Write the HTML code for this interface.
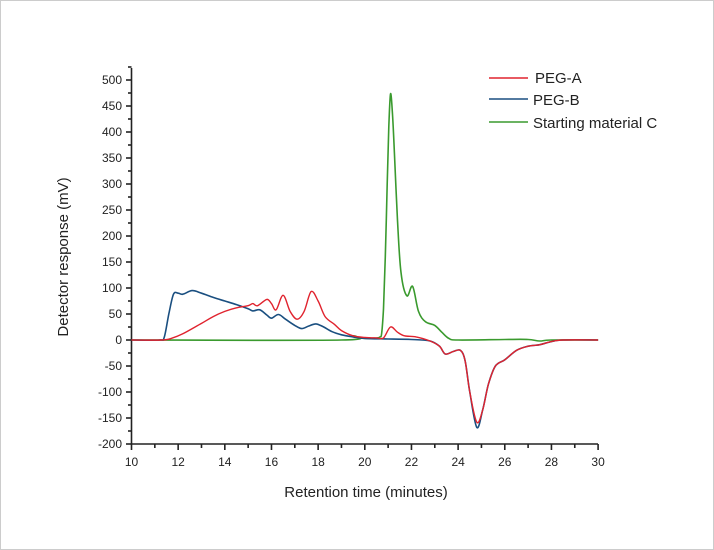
<!DOCTYPE html>
<html><head><meta charset="utf-8"><style>
html,body{margin:0;padding:0;background:#fff;}
svg{display:block;}
text{font-family:"Liberation Sans Narrow","Liberation Sans",sans-serif;fill:#222;}
</style></head><body>
<svg id="s" width="714" height="550" viewBox="0 0 714 550" xmlns="http://www.w3.org/2000/svg">
<rect x="0.5" y="0.5" width="713" height="549" fill="#fff" stroke="#ccc"/>
<g id="ax" stroke="#222" stroke-width="1.6" fill="none"></g>
<g id="lbl" font-size="12" text-anchor="end"></g>
<g id="xl" font-size="12" text-anchor="middle"></g>
<text x="366" y="497" font-size="15" text-anchor="middle">Retention time (minutes)</text>
<text transform="translate(68,257) rotate(-90)" font-size="15" text-anchor="middle">Detector response (mV)</text>
<path id="g" fill="none" stroke="#3a9a2e" stroke-width="1.6"/>
<path id="b" fill="none" stroke="#1a4f80" stroke-width="1.6"/>
<path id="r" fill="none" stroke="#e0232e" stroke-width="1.4"/>
<line x1="489" y1="78" x2="528" y2="78" stroke="#e0232e" stroke-width="1.4"/>
<line x1="489" y1="99" x2="528" y2="99" stroke="#1a4f80" stroke-width="1.6"/>
<line x1="489" y1="122" x2="528" y2="122" stroke="#3a9a2e" stroke-width="1.6"/>
<text x="535" y="83" font-size="15">PEG-A</text>
<text x="533" y="105" font-size="15">PEG-B</text>
<text x="533" y="128" font-size="15">Starting material C</text>
</svg>
<script>
const X=t=>131.5+23.33*(t-10), Y=v=>340-0.52*v;
const ax=document.getElementById('ax'),lbl=document.getElementById('lbl'),xl=document.getElementById('xl');
let h='<line x1="131.5" y1="68" x2="131.5" y2="444"/><line x1="131.5" y1="444" x2="598" y2="444"/>';
for(let v=-200;v<=525;v+=25){const y=Y(v);h+=`<line x1="${v%50?128:126}" y1="${y}" x2="131.5" y2="${y}"/>`;
 if(v%50==0&&v>-200) lbl.innerHTML+=`<text x="122" y="${y+4}">${v}</text>`;}
lbl.innerHTML+=`<text x="122" y="${Y(-200)+4}">-200</text>`;
for(let t=10;t<=30;t++){const x=X(t);h+=`<line x1="${x}" y1="444" x2="${x}" y2="${t%2?448:450}"/>`;
 if(t%2==0) xl.innerHTML+=`<text x="${x}" y="466">${t}</text>`;}
ax.innerHTML=h;
function path(d){const p=d.map(a=>[X(a[0]),Y(a[1])]);let s=`M${p[0][0]},${p[0][1]}`;
 for(let i=0;i<p.length-1;i++){const p0=p[i-1]||p[i],p1=p[i],p2=p[i+1],p3=p[i+2]||p2;
  const c1=[p1[0]+(p2[0]-p0[0])/6,p1[1]+(p2[1]-p0[1])/6],c2=[p2[0]-(p3[0]-p1[0])/6,p2[1]-(p3[1]-p1[1])/6];
  s+=`C${c1[0].toFixed(1)},${c1[1].toFixed(1)} ${c2[0].toFixed(1)},${c2[1].toFixed(1)} ${p2[0].toFixed(1)},${p2[1].toFixed(1)}`;}
 return s;}
const tail=[[22.8,-2],[23.2,-12],[23.45,-27],[23.8,-22],[24.1,-20],[24.3,-40],[24.5,-100],[24.8,-168],[25.05,-135],[25.3,-85],[25.6,-50],[26,-38],[26.5,-20],[27,-12],[27.5,-9],[28,-3],[28.5,0],[30,0]];
const tailR=tail.map(a=>[a[0],a[1]==-168?-158:a[1]]);
const B=[[10,0],[11.2,0],[11.4,5],[11.6,50],[11.8,88],[12.0,90],[12.2,88],[12.6,95],[13,90],[13.5,82],[14,75],[14.5,68],[15,60],[15.2,56],[15.5,58],[15.8,48],[16,42],[16.3,49],[16.6,40],[17,28],[17.3,22],[17.6,27],[17.9,31],[18.2,26],[18.6,16],[19,10],[19.5,6],[20,3],[21,2],[22,1]].concat(tail);
const R=[[10,0],[11.3,0],[11.7,3],[12.2,12],[13,32],[13.5,45],[14,55],[14.5,62],[15,66],[15.2,70],[15.4,66],[15.8,78],[16,70],[16.2,58],[16.5,86],[16.8,55],[17.1,40],[17.4,55],[17.7,93],[18,75],[18.3,45],[18.7,30],[19,18],[19.5,8],[20,5],[20.5,4],[20.8,4],[21.1,25],[21.4,15],[21.7,8],[22.2,6]].concat(tailR);
const G=[[10,0],[19,0],[19.5,8],[19.8,4],[20.3,3],[20.55,4],[20.65,6],[20.72,12],[20.8,60],[20.88,160],[20.96,300],[21.03,410],[21.1,473],[21.18,440],[21.27,360],[21.4,230],[21.55,130],[21.8,85],[22.05,103],[22.3,55],[22.6,35],[23,28],[23.3,15],[23.6,3],[24,0],[26,1],[27,1],[27.5,-2],[28,0],[30,0]];
document.getElementById('b').setAttribute('d',path(B));
document.getElementById('r').setAttribute('d',path(R));
document.getElementById('g').setAttribute('d',path(G));
</script>
</body></html>
